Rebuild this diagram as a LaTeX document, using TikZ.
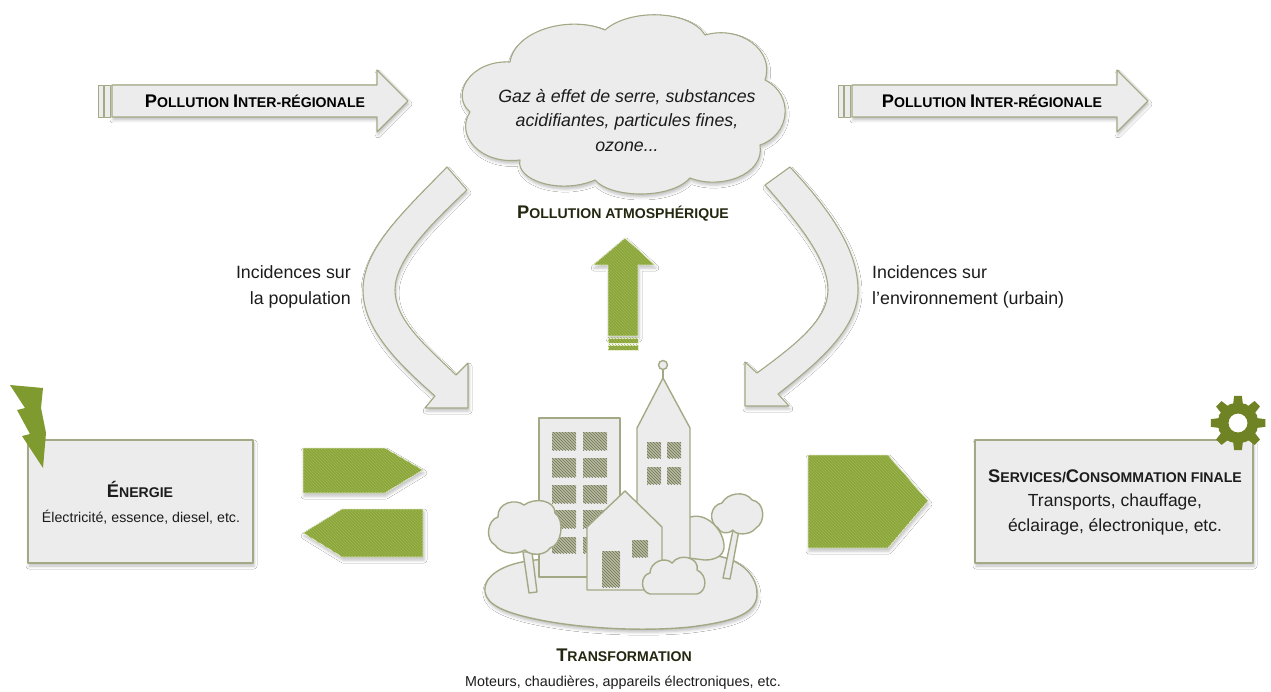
\documentclass[tikz,border=0pt]{standalone}
\usepackage{fontspec}
\setmainfont{Liberation Sans}
\usetikzlibrary{patterns,shadows.blur}

\definecolor{paper}{HTML}{ECECEC}
\definecolor{rim}{HTML}{A4A985}
\definecolor{leaf}{HTML}{8CA63C}
\definecolor{leafhi}{HTML}{9CB652}
\definecolor{bolt}{HTML}{7F9A2E}
\definecolor{cog}{HTML}{6F8325}
\definecolor{ink}{HTML}{1C1C1C}
\definecolor{olink}{HTML}{23270F}
\definecolor{panefill}{HTML}{B9BCA2}
\definecolor{panehatch}{HTML}{6E7352}

% large initial of a small-caps heading
\newcommand\capA[1]{{\fontsize{18.3}{18}\selectfont #1}}

\tikzset{
  softshadow/.style={blur shadow={shadow xshift=1pt, shadow yshift=-3pt,
      shadow blur radius=3pt, shadow opacity=25}},
  panel/.style={fill=paper, draw=rim, line width=1.1pt, line join=round},
  greenblock/.style={fill=leaf, draw=white!80!leaf, line width=0.8pt,
      postaction={pattern=north west lines, pattern color=leafhi}},
  town/.style={fill=paper, draw=rim, line width=1.4pt, line join=round},
  pane/.style={fill=panefill, postaction={pattern=north west lines, pattern color=panehatch}},
  heading/.style={font=\fontsize{14.1}{17}\selectfont\bfseries, text=olink, inner sep=0pt},
  body/.style={text=ink, inner sep=0pt, align=center},
}

\begin{document}
\begin{tikzpicture}[x=1pt,y=-1pt]
\fill[white] (0,0) rectangle (1271,692);
\useasboundingbox (0,0) rectangle (1271,692);

% ---- inter-regional pollution arrows ----
\foreach \dx in {0,740} {
  \begin{scope}[xshift=\dx]
    \path[panel, softshadow] (112,85) -- (377,85) -- (377,70) -- (408,101)
         -- (377,132) -- (377,117) -- (112,117) -- cycle;
    \path[panel, line width=0.9pt] (98,85) rectangle (103,117);
    \path[panel, line width=0.9pt] (104,85) rectangle (110,117);
  \end{scope}
}
\node[heading, text=black] (interL) at (255,101)
  {\capA{P}OLLUTION \capA{I}NTER-RÉGIONALE};
\node[heading, text=black] (interR) at (992,101)
  {\capA{P}OLLUTION \capA{I}NTER-RÉGIONALE};

% ---- cloud ----
\path[panel, softshadow] (470,112)
  .. controls (450,95) and (470,60) .. (510,62)
  .. controls (515,30) and (570,15) .. (605,30)
  .. controls (630,8) and (690,10) .. (705,35)
  .. controls (740,25) and (775,50) .. (765,80)
  .. controls (795,95) and (790,135) .. (760,145)
  .. controls (765,175) and (720,190) .. (690,178)
  .. controls (670,200) and (610,198) .. (595,180)
  .. controls (560,195) and (515,180) .. (520,160)
  .. controls (480,165) and (455,135) .. (470,112) -- cycle;
\node[body, font=\fontsize{17.8}{24.5}\selectfont\itshape] (gaz) at (627,120.5)
  {Gaz à effet de serre, substances\\acidifiantes, particules fines,\\ozone...};
\node[heading] (atmo) at (623,214) {\capA{P}OLLUTION ATMOSPHÉRIQUE};

% ---- curved impact arrows ----
\path[panel, softshadow] (447,167)
  .. controls (400,215) and (363,250) .. (363,290)
  .. controls (363,330) and (400,365) .. (435,396)
  -- (425,408) -- (468,408) -- (468,363) -- (456,375)
  .. controls (425,345) and (395,320) .. (395,290)
  .. controls (395,260) and (430,225) .. (467,190) -- cycle;
\path[panel, softshadow] (790,167)
  .. controls (830,210) and (858,250) .. (858,290)
  .. controls (858,330) and (815,365) .. (778,394)
  -- (789,406) -- (745,406) -- (745,362) -- (757,373)
  .. controls (795,345) and (828,320) .. (828,290)
  .. controls (828,260) and (800,225) .. (765,185) -- cycle;
\node[body, anchor=east, align=right, font=\fontsize{17.8}{26}\selectfont] (popu) at (351,287)
  {Incidences sur\\la population};
\node[body, anchor=west, align=left, font=\fontsize{17.8}{26}\selectfont] (envi) at (872,287)
  {Incidences sur\\l'environnement (urbain)};

% ---- upward emission arrow ----
\path[greenblock, softshadow] (608,336) -- (608,265) -- (593,265) -- (625,238)
  -- (655,265) -- (638,265) -- (638,336) -- cycle;
\path[greenblock] (608,338) rectangle (638,343);
\path[greenblock] (608,345) rectangle (638,350);

% ---- energy exchange arrows ----
\path[greenblock, softshadow] (303,448) -- (385,448) -- (423,470) -- (385,493) -- (303,493) -- cycle;
\path[greenblock, softshadow] (342,509) -- (423,509) -- (423,557) -- (342,557) -- (303,533) -- cycle;
\path[greenblock, softshadow] (808,455) -- (888,455) -- (928,501) -- (888,548) -- (808,548) -- cycle;

% ---- energy box ----
\path[panel, softshadow] (28,440) rectangle (253,563);
\fill[bolt] (10,385) -- (43,388) -- (41,408) -- (46,433) -- (43,468)
  -- (22,436) -- (30,434) -- (17,410) -- (25,408) -- cycle;
\node[heading, text=ink] (energie) at (140,489) {\capA{É}NERGIE};
\node[body, font=\fontsize{14.2}{17}\selectfont] (energieTxt) at (141,517)
  {Électricité, essence, diesel, etc.};

% ---- services box ----
\path[panel, softshadow] (975,440) rectangle (1253,563);
\begin{scope}[shift={(1238,423)}]
  \fill[cog, even odd rule] (-22.5:20.5)
    \foreach \a in {0,45,...,315} {
      -- (\a-14:20) -- (\a-8:27.5) -- (\a+8:27.5) -- (\a+14:20) -- (\a+22.5:20.5)
    } -- cycle
    (0,0) circle (9.5);
\end{scope}
\node[heading, text=ink] (services) at (1115,476)
  {\capA{S}ERVICES/\capA{C}ONSOMMATION FINALE};
\node[body, font=\fontsize{17.5}{25}\selectfont] (servicesTxt) at (1115,514.5)
  {Transports, chauffage,\\éclairage, électronique, etc.};

% ---- town ----
\path[town, softshadow] (485,592)
  .. controls (483,575) and (505,563) .. (535,560)
  .. controls (600,555) and (650,560) .. (700,556)
  .. controls (730,552) and (758,570) .. (757,595)
  .. controls (756,615) and (730,622) .. (690,627)
  .. controls (640,632) and (580,628) .. (540,620)
  .. controls (505,613) and (487,605) .. (485,592) -- cycle;
% apartment block
\path[town] (539,418) rectangle (620,577);
\foreach \ya/\yb in {432/450,458/477,485/503,510/528,537/553} {
  \path[pane] (552,\ya) rectangle (576,\yb);
  \path[pane] (583,\ya) rectangle (607,\yb);
}
% bush behind the tower
\path[town] (688,558) -- (688,518) .. controls (705,510) and (725,530) .. (724,548)
  .. controls (723,556) and (715,560) .. (705,560) -- cycle;
% tower
\path[town] (637,580) -- (637,428) -- (663,378) -- (690,428) -- (690,580) -- cycle;
\draw[rim, line width=1.4pt] (663,370) -- (663,378);
\path[town] (663,365) circle (4.5);
\foreach \ya/\yb in {442/458,467/484} {
  \path[pane] (647,\ya) rectangle (661,\yb);
  \path[pane] (667,\ya) rectangle (681,\yb);
}
% left tree
\path[town] (523,552) -- (532,552) -- (537,592) -- (529,593) -- cycle;
\path[town] (495,545)
  .. controls (485,540) and (487,520) .. (498,517)
  .. controls (497,503) and (515,498) .. (524,505)
  .. controls (535,497) and (555,500) .. (555,513)
  .. controls (565,520) and (562,545) .. (550,548)
  .. controls (545,556) and (530,556) .. (525,550)
  .. controls (515,556) and (500,553) .. (495,545) -- cycle;
% right tree
\path[town] (733,530) -- (739,530) -- (730,579) -- (723,578) -- cycle;
\path[town] (718,528)
  .. controls (708,522) and (710,505) .. (722,503)
  .. controls (727,493) and (745,490) .. (752,500)
  .. controls (765,502) and (766,522) .. (756,528)
  .. controls (750,536) and (735,535) .. (733,530)
  .. controls (727,535) and (720,533) .. (718,528) -- cycle;
% house
\path[town] (587,590) -- (587,527) -- (625,491) -- (662,527) -- (662,590) -- cycle;
\path[pane] (602,551) rectangle (620,587);
\path[pane] (632,540) rectangle (648,557);
% front bush
\path[town] (650,594)
  .. controls (640,592) and (640,575) .. (650,573)
  .. controls (650,562) and (665,556) .. (672,563)
  .. controls (680,552) and (700,558) .. (697,570)
  .. controls (708,575) and (707,592) .. (697,594) -- cycle;

\node[heading] (transfo) at (624,655) {\capA{T}RANSFORMATION};
\node[body, font=\fontsize{14.3}{17}\selectfont] (transfoTxt) at (623,683)
  {Moteurs, chaudières, appareils électroniques, etc.};
\end{tikzpicture}
\end{document}
